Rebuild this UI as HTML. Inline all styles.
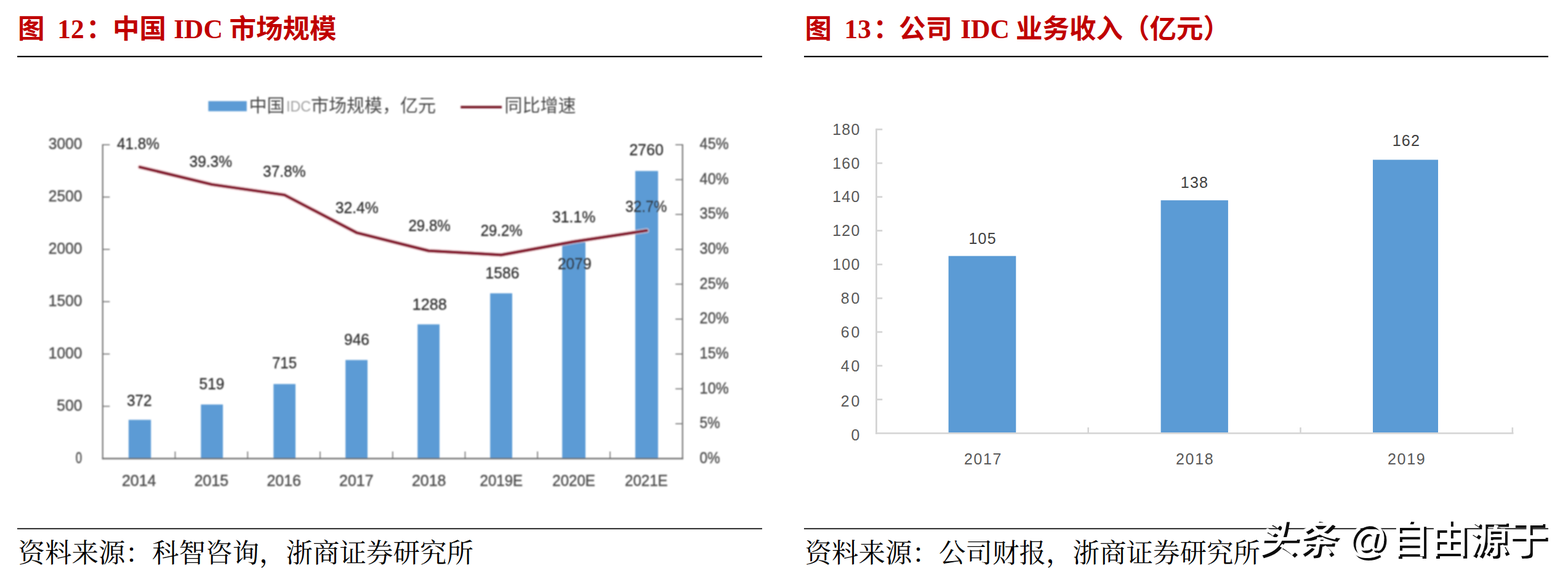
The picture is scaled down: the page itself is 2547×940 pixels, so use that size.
<!DOCTYPE html>
<html lang="zh"><head><meta charset="utf-8"><title>IDC</title>
<style>
html,body{margin:0;padding:0;background:#fff;}
body{width:2547px;height:940px;overflow:hidden;font-family:"Liberation Sans",sans-serif;}
svg{display:block;position:absolute;left:0;top:0;}
.tt{font-family:"Liberation Serif",serif;font-weight:bold;font-size:43.5px;fill:#c00000;}
.tc{font-family:"Liberation Sans","Noto Sans CJK SC",sans-serif;font-weight:bold;font-size:43.5px;fill:#c00000;}
.lg{font-family:"Liberation Sans","Noto Sans CJK SC",sans-serif;font-size:29px;fill:#4a4a4a;}
.src{font-family:"Liberation Serif","Noto Serif CJK SC",serif;font-size:43.5px;fill:#000;}
.wm{font-family:"Liberation Sans","Noto Sans CJK SC",sans-serif;font-size:64px;font-weight:500;}
.lt{font-family:"Liberation Sans",sans-serif;font-size:25.5px;fill:#525252;stroke:#525252;stroke-width:0.55px;}
.lt2{font-family:"Liberation Sans",sans-serif;font-size:24px;fill:#a0a0a0;}
.rt{font-family:"Liberation Sans",sans-serif;font-size:25px;fill:#595959;}
</style></head>
<body>
<svg width="2547" height="940" viewBox="0 0 2547 940">
<defs><filter id="soft" x="0" y="0" width="100%" height="100%" filterUnits="userSpaceOnUse"><feGaussianBlur stdDeviation="0.95"/></filter></defs>
<rect width="2547" height="940" fill="#fff"/>
<text x="29" y="61.5" class="tc">图</text>
<text x="140" y="61.5" class="tc">：</text>
<text x="183" y="61.5" class="tc">中国</text>
<text x="372.5" y="61.5" class="tc">市场规模</text>
<text x="93.3" y="61.5" class="tt">12</text>
<text x="282.2" y="61.5" class="tt">IDC</text>
<rect x="28" y="90.7" width="1210" height="2.2" fill="#000"/>
<rect x="28" y="857.5" width="1210" height="1.7" fill="#000"/>
<text x="1307.6" y="61.5" class="tc">图</text>
<text x="1418.4" y="61.5" class="tc">：</text>
<text x="1460" y="61.5" class="tc">公司</text>
<text x="1650" y="61.5" class="tc">业务收入（亿元）</text>
<text x="1371.6" y="61.5" class="tt">13</text>
<text x="1560.2" y="61.5" class="tt">IDC</text>
<rect x="1306" y="90.7" width="1209" height="2.2" fill="#000"/>
<rect x="1306" y="857.5" width="1209" height="1.7" fill="#000"/>
<g filter="url(#soft)"><rect x="208.9" y="681.6" width="36.3" height="62.9" fill="#5b9bd5"/><rect x="326.4" y="656.7" width="35.7" height="87.8" fill="#5b9bd5"/><rect x="444.3" y="623.5" width="35.7" height="121.0" fill="#5b9bd5"/><rect x="561.2" y="584.5" width="35.8" height="160.0" fill="#5b9bd5"/><rect x="678.3" y="526.6" width="35.7" height="217.9" fill="#5b9bd5"/><rect x="796.2" y="476.2" width="35.8" height="268.3" fill="#5b9bd5"/><rect x="913.2" y="392.8" width="37.8" height="351.7" fill="#5b9bd5"/><rect x="1031.9" y="277.6" width="37.0" height="466.9" fill="#5b9bd5"/><rect x="165.8" y="234.2" width="2" height="511.3" fill="#6e6e6e"/><rect x="1107.7" y="234.2" width="2" height="511.3" fill="#6e6e6e"/><rect x="165.8" y="743.3" width="943.9000000000001" height="2.4" fill="#6e6e6e"/><rect x="166.8" y="658.8" width="11.5" height="1.6" fill="#6e6e6e"/><rect x="166.8" y="573.9" width="11.5" height="1.6" fill="#6e6e6e"/><rect x="166.8" y="488.9" width="11.5" height="1.6" fill="#6e6e6e"/><rect x="166.8" y="404.0" width="11.5" height="1.6" fill="#6e6e6e"/><rect x="166.8" y="319.1" width="11.5" height="1.6" fill="#6e6e6e"/><rect x="166.8" y="234.2" width="11.5" height="1.6" fill="#6e6e6e"/><rect x="1097.2" y="687.1" width="11.5" height="1.6" fill="#6e6e6e"/><rect x="1097.2" y="630.5" width="11.5" height="1.6" fill="#6e6e6e"/><rect x="1097.2" y="573.9" width="11.5" height="1.6" fill="#6e6e6e"/><rect x="1097.2" y="517.3" width="11.5" height="1.6" fill="#6e6e6e"/><rect x="1097.2" y="460.6" width="11.5" height="1.6" fill="#6e6e6e"/><rect x="1097.2" y="404.0" width="11.5" height="1.6" fill="#6e6e6e"/><rect x="1097.2" y="347.4" width="11.5" height="1.6" fill="#6e6e6e"/><rect x="1097.2" y="290.8" width="11.5" height="1.6" fill="#6e6e6e"/><rect x="1097.2" y="234.2" width="11.5" height="1.6" fill="#6e6e6e"/><rect x="283.7" y="733.0" width="1.6" height="11.5" fill="#6e6e6e"/><rect x="401.5" y="733.0" width="1.6" height="11.5" fill="#6e6e6e"/><rect x="519.2" y="733.0" width="1.6" height="11.5" fill="#6e6e6e"/><rect x="637.0" y="733.0" width="1.6" height="11.5" fill="#6e6e6e"/><rect x="754.7" y="733.0" width="1.6" height="11.5" fill="#6e6e6e"/><rect x="872.4" y="733.0" width="1.6" height="11.5" fill="#6e6e6e"/><rect x="990.2" y="733.0" width="1.6" height="11.5" fill="#6e6e6e"/><polyline points="227.1,271.2 344.2,299.5 462.1,316.5 579.1,377.7 696.1,407.1 814.1,413.9 932.1,392.4 1050.4,374.3" fill="none" stroke="#f8d4d8" stroke-width="8" stroke-linejoin="round" stroke-linecap="round" opacity="0.6"/><polyline points="227.1,271.2 344.2,299.5 462.1,316.5 579.1,377.7 696.1,407.1 814.1,413.9 932.1,392.4 1050.4,374.3" fill="none" stroke="#851e30" stroke-width="4.7" stroke-linejoin="round" stroke-linecap="round"/><text x="122.8" y="751.7" text-anchor="start" class="lt" textLength="10.5" lengthAdjust="spacingAndGlyphs">0</text><text x="92.3" y="666.8" text-anchor="start" class="lt" textLength="41.0" lengthAdjust="spacingAndGlyphs">500</text><text x="78.8" y="581.9" text-anchor="start" class="lt" textLength="54.5" lengthAdjust="spacingAndGlyphs">1000</text><text x="78.8" y="496.9" text-anchor="start" class="lt" textLength="54.5" lengthAdjust="spacingAndGlyphs">1500</text><text x="78.8" y="412.0" text-anchor="start" class="lt" textLength="54.5" lengthAdjust="spacingAndGlyphs">2000</text><text x="78.8" y="327.1" text-anchor="start" class="lt" textLength="54.5" lengthAdjust="spacingAndGlyphs">2500</text><text x="78.8" y="242.2" text-anchor="start" class="lt" textLength="54.5" lengthAdjust="spacingAndGlyphs">3000</text><text x="1136.6" y="751.7" text-anchor="start" class="lt" textLength="33.0" lengthAdjust="spacingAndGlyphs">0%</text><text x="1136.6" y="695.1" text-anchor="start" class="lt" textLength="33.0" lengthAdjust="spacingAndGlyphs">5%</text><text x="1136.6" y="638.5" text-anchor="start" class="lt" textLength="47.0" lengthAdjust="spacingAndGlyphs">10%</text><text x="1136.6" y="581.9" text-anchor="start" class="lt" textLength="47.0" lengthAdjust="spacingAndGlyphs">15%</text><text x="1136.6" y="525.3" text-anchor="start" class="lt" textLength="47.0" lengthAdjust="spacingAndGlyphs">20%</text><text x="1136.6" y="468.6" text-anchor="start" class="lt" textLength="47.0" lengthAdjust="spacingAndGlyphs">25%</text><text x="1136.6" y="412.0" text-anchor="start" class="lt" textLength="47.0" lengthAdjust="spacingAndGlyphs">30%</text><text x="1136.6" y="355.4" text-anchor="start" class="lt" textLength="47.0" lengthAdjust="spacingAndGlyphs">35%</text><text x="1136.6" y="298.8" text-anchor="start" class="lt" textLength="47.0" lengthAdjust="spacingAndGlyphs">40%</text><text x="1136.6" y="242.2" text-anchor="start" class="lt" textLength="47.0" lengthAdjust="spacingAndGlyphs">45%</text><text x="197.9" y="788.5" text-anchor="start" class="lt" textLength="55.5" lengthAdjust="spacingAndGlyphs">2014</text><text x="315.7" y="788.5" text-anchor="start" class="lt" textLength="55.5" lengthAdjust="spacingAndGlyphs">2015</text><text x="433.4" y="788.5" text-anchor="start" class="lt" textLength="55.5" lengthAdjust="spacingAndGlyphs">2016</text><text x="551.1" y="788.5" text-anchor="start" class="lt" textLength="55.5" lengthAdjust="spacingAndGlyphs">2017</text><text x="668.9" y="788.5" text-anchor="start" class="lt" textLength="55.5" lengthAdjust="spacingAndGlyphs">2018</text><text x="779.6" y="788.5" text-anchor="start" class="lt" textLength="69.5" lengthAdjust="spacingAndGlyphs">2019E</text><text x="897.3" y="788.5" text-anchor="start" class="lt" textLength="69.5" lengthAdjust="spacingAndGlyphs">2020E</text><text x="1015.1" y="788.5" text-anchor="start" class="lt" textLength="69.5" lengthAdjust="spacingAndGlyphs">2021E</text><text x="205.9" y="658.5" text-anchor="start" class="lt" textLength="40.8" lengthAdjust="spacingAndGlyphs" style="fill:#333;stroke:#333;stroke-width:0.4px">372</text><text x="323.5" y="631.5" text-anchor="start" class="lt" textLength="41.0" lengthAdjust="spacingAndGlyphs" style="fill:#333;stroke:#333;stroke-width:0.4px">519</text><text x="442.0" y="598.0" text-anchor="start" class="lt" textLength="40.0" lengthAdjust="spacingAndGlyphs" style="fill:#333;stroke:#333;stroke-width:0.4px">715</text><text x="559.0" y="559.5" text-anchor="start" class="lt" textLength="41.0" lengthAdjust="spacingAndGlyphs" style="fill:#333;stroke:#333;stroke-width:0.4px">946</text><text x="669.8" y="502.5" text-anchor="start" class="lt" textLength="56.1" lengthAdjust="spacingAndGlyphs" style="fill:#333;stroke:#333;stroke-width:0.4px">1288</text><text x="788.5" y="451.9" text-anchor="start" class="lt" textLength="54.9" lengthAdjust="spacingAndGlyphs" style="fill:#333;stroke:#333;stroke-width:0.4px">1586</text><text x="905.9" y="437.4" text-anchor="start" class="lt" textLength="54.9" lengthAdjust="spacingAndGlyphs" style="fill:#333;stroke:#333;stroke-width:0.4px">2079</text><text x="1022.2" y="252.0" text-anchor="start" class="lt" textLength="55.6" lengthAdjust="spacingAndGlyphs" style="fill:#333;stroke:#333;stroke-width:0.4px">2760</text><text x="190.0" y="242.0" text-anchor="start" class="lt" textLength="69.0" lengthAdjust="spacingAndGlyphs" style="fill:#333;stroke:#333;stroke-width:0.4px">41.8%</text><text x="307.5" y="270.5" text-anchor="start" class="lt" textLength="69.5" lengthAdjust="spacingAndGlyphs" style="fill:#333;stroke:#333;stroke-width:0.4px">39.3%</text><text x="427.0" y="287.0" text-anchor="start" class="lt" textLength="69.5" lengthAdjust="spacingAndGlyphs" style="fill:#333;stroke:#333;stroke-width:0.4px">37.8%</text><text x="544.7" y="345.5" text-anchor="start" class="lt" textLength="70.2" lengthAdjust="spacingAndGlyphs" style="fill:#333;stroke:#333;stroke-width:0.4px">32.4%</text><text x="663.4" y="374.8" text-anchor="start" class="lt" textLength="68.4" lengthAdjust="spacingAndGlyphs" style="fill:#333;stroke:#333;stroke-width:0.4px">29.8%</text><text x="780.8" y="382.5" text-anchor="start" class="lt" textLength="67.7" lengthAdjust="spacingAndGlyphs" style="fill:#333;stroke:#333;stroke-width:0.4px">29.2%</text><text x="897.0" y="360.8" text-anchor="start" class="lt" textLength="70.2" lengthAdjust="spacingAndGlyphs" style="fill:#333;stroke:#333;stroke-width:0.4px">31.1%</text><text x="1015.7" y="344.2" text-anchor="start" class="lt" textLength="67.6" lengthAdjust="spacingAndGlyphs" style="fill:#333;stroke:#333;stroke-width:0.4px">32.7%</text><rect x="338.4" y="164.2" width="62.4" height="16.4" fill="#5b9bd5"/><rect x="748.3" y="171.8" width="66.8" height="4.2" fill="#7e2433"/><text x="404.5" y="182" class="lg">中国</text><text x="505" y="182" class="lg">市场规模，亿元</text><text x="819.5" y="182" class="lg">同比增速</text><text x="465" y="180.6" class="lt2" textLength="40" lengthAdjust="spacingAndGlyphs">IDC</text></g>
<rect x="1540.7" y="415.6" width="109.6" height="286.6" fill="#5b9bd5"/><rect x="1885.6" y="325.2" width="109.3" height="377.0" fill="#5b9bd5"/><rect x="2230" y="259.4" width="106.0" height="442.8" fill="#5b9bd5"/><rect x="1422.1" y="208.7" width="2.9" height="495.99999999999994" fill="#d5d5d5"/><rect x="1422.1" y="702.1" width="1036.3999999999999" height="2.6" fill="#d5d5d5"/><rect x="1424" y="647.2" width="9.3" height="2.8" fill="#d5d5d5"/><rect x="1424" y="592.4" width="9.3" height="2.8" fill="#d5d5d5"/><rect x="1424" y="537.6" width="9.3" height="2.8" fill="#d5d5d5"/><rect x="1424" y="482.8" width="9.3" height="2.8" fill="#d5d5d5"/><rect x="1424" y="427.9" width="9.3" height="2.8" fill="#d5d5d5"/><rect x="1424" y="373.1" width="9.3" height="2.8" fill="#d5d5d5"/><rect x="1424" y="318.3" width="9.3" height="2.8" fill="#d5d5d5"/><rect x="1424" y="263.5" width="9.3" height="2.8" fill="#d5d5d5"/><rect x="1424" y="208.7" width="9.3" height="2.8" fill="#d5d5d5"/><rect x="1766.4" y="693.9" width="2.6" height="9.5" fill="#d5d5d5"/><rect x="2111.2" y="693.9" width="2.6" height="9.5" fill="#d5d5d5"/><rect x="2455.5" y="693.9" width="2.6" height="9.5" fill="#d5d5d5"/><text x="1396.4" y="715.2" text-anchor="end" class="rt" textLength="13.9" lengthAdjust="spacing">0</text><text x="1396.4" y="660.4" text-anchor="end" class="rt" textLength="30.6" lengthAdjust="spacing">20</text><text x="1396.4" y="603.4" text-anchor="end" class="rt" textLength="30.6" lengthAdjust="spacing">40</text><text x="1396.4" y="547.6" text-anchor="end" class="rt" textLength="30.6" lengthAdjust="spacing">60</text><text x="1396.4" y="492.8" text-anchor="end" class="rt" textLength="30.6" lengthAdjust="spacing">80</text><text x="1396.4" y="437.9" text-anchor="end" class="rt" textLength="44.2" lengthAdjust="spacing">100</text><text x="1396.4" y="383.1" text-anchor="end" class="rt" textLength="44.2" lengthAdjust="spacing">120</text><text x="1396.4" y="328.3" text-anchor="end" class="rt" textLength="44.2" lengthAdjust="spacing">140</text><text x="1396.4" y="273.5" text-anchor="end" class="rt" textLength="44.2" lengthAdjust="spacing">160</text><text x="1396.4" y="218.7" text-anchor="end" class="rt" textLength="44.2" lengthAdjust="spacing">180</text><text x="1596.2" y="753.9" text-anchor="middle" class="rt" textLength="60.6" lengthAdjust="spacing">2017</text><text x="1940.3" y="753.9" text-anchor="middle" class="rt" textLength="60.6" lengthAdjust="spacing">2018</text><text x="2284.3" y="753.9" text-anchor="middle" class="rt" textLength="60.6" lengthAdjust="spacing">2019</text><text x="1595.5" y="395.5" text-anchor="middle" class="rt" textLength="44.2" lengthAdjust="spacing" style="fill:#404040">105</text><text x="1939.9" y="304.9" text-anchor="middle" class="rt" textLength="44.2" lengthAdjust="spacing" style="fill:#404040">138</text><text x="2283.8" y="237.2" text-anchor="middle" class="rt" textLength="44.2" lengthAdjust="spacing" style="fill:#404040">162</text>
<text x="29.5" y="913" class="src">资料来源：科智咨询，浙商证券研究所</text>
<text x="1307.5" y="913" class="src">资料来源：公司财报，浙商证券研究所</text>
<g fill="#0d0d0d"><text class="wm" x="2046" y="897" transform="translate(4.3,4.3) translate(2114,876) skewX(-9) translate(-2114,-876)">头条</text><text class="wm" x="2189" y="897" transform="translate(3.9,3.9)">@</text><text class="wm" x="2258" y="897" transform="translate(3.9,3.9)">自由源于</text></g>
<g fill="#fff"><text class="wm" x="2046" y="897" transform="translate(2114,876) skewX(-9) translate(-2114,-876)">头条</text><text class="wm" x="2189" y="897">@</text><text class="wm" x="2258" y="897">自由源于</text></g>
</svg>
</body></html>
